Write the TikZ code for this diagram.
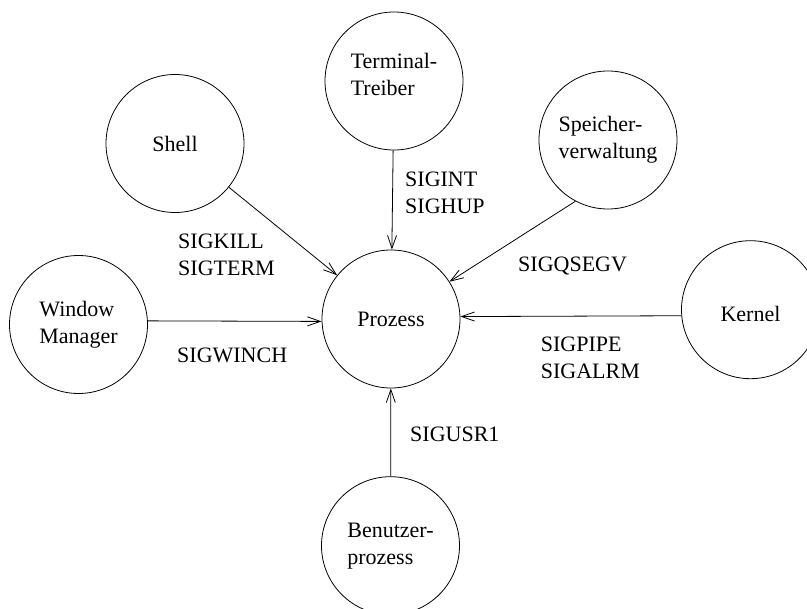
\documentclass[tikz,border=0pt]{standalone}
\usepackage{fontspec}
\setmainfont{Liberation Serif}
\usetikzlibrary{arrows.meta}
\begin{document}
\begin{tikzpicture}[x=1pt,y=-1pt,
  circ/.style={draw, circle, minimum size=138pt, inner sep=0pt, align=left,
    font=\fontsize{22}{27}\selectfont, line width=0.8pt},
  sig/.style={inner sep=0pt, align=left, font=\fontsize{22}{27}\selectfont},
  conn/.style={-{Straight Barb[length=13pt,width=9pt]}, line width=0.8pt}]
\clip (0,0) rectangle (807,609);
\node[circ] (proz) at (391,319) {Prozess};
\node[circ, label={[sig, yshift=7pt]center:{Terminal-\\Treiber}}] (term) at (394,81) {};
\node[circ] (shell) at (175,143.5) {Shell};
\node[circ] (speich) at (608,140) {Speicher-\\verwaltung};
\node[circ] (wm) at (78.5,324.5) {Window\\Manager};
\node[circ, label={[sig, yshift=-4pt]center:Kernel}] (kern) at (750.5,309.7) {};
\node[circ] (ben) at (390.5,545.7) {Benutzer-\\prozess};

\draw[conn] (term) -- (proz);
\draw[conn] (shell) -- (proz);
\draw[conn] (speich.-118) -- (proz);
\draw[conn] (wm.3) -- (proz.182);
\draw[conn] (kern.185) -- (proz.2.5);
\draw[conn] (ben) -- (proz);

\node[sig, anchor=west] (l1) at (405,192.5) {SIGINT\\SIGHUP};
\node[sig, anchor=west] (l2) at (178,255) {SIGKILL\\SIGTERM};
\node[sig, anchor=base west] (l3) at (518,272) {SIGQSEGV};
\node[sig, anchor=base west] (l4) at (177,363) {SIGWINCH};
\node[sig, anchor=west] (l5) at (540.7,357.5) {SIGPIPE\\SIGALRM};
\node[sig, anchor=base west] (l6) at (410,442) {SIGUSR1};
\end{tikzpicture}
\end{document}
